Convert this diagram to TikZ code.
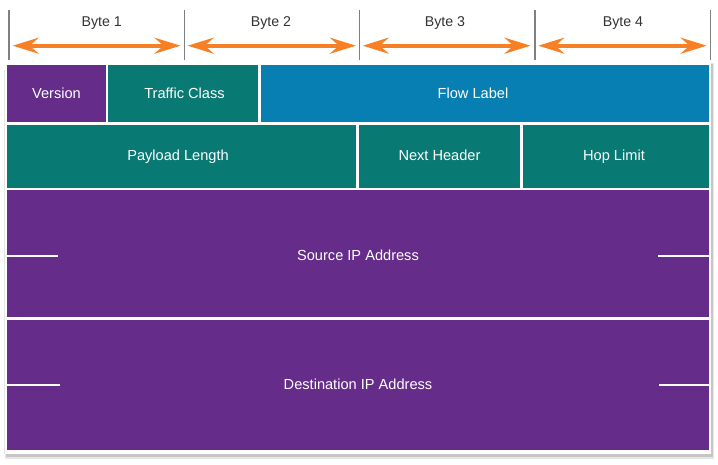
\documentclass[tikz,border=0pt]{standalone}
\usepackage{fontspec}
\setmainfont{Liberation Sans}
\usetikzlibrary{arrows.meta}
\definecolor{ipPurple}{RGB}{101,45,137}
\definecolor{ipTeal}{RGB}{8,121,115}
\definecolor{ipBlue}{RGB}{7,127,178}
\definecolor{ipOrange}{RGB}{245,128,37}
\definecolor{ipTick}{RGB}{128,128,128}
\definecolor{ipText}{RGB}{51,51,51}
\begin{document}
\begin{tikzpicture}[x=1pt,y=-1pt,
  cell/.style={rectangle, inner sep=0pt, outer sep=0pt, text=white,
    text height=10.5pt, text depth=0.5pt,
    font=\fontsize{14.6}{17}\selectfont},
  bytelabel/.style={inner sep=0pt, text=ipText, text height=10.5pt, text depth=0.5pt,
    font=\fontsize{14.2}{17}\selectfont},
  bytetick/.style={draw=ipTick, line width=1.3pt},
  bytearrow/.style={draw=ipOrange, line width=3.8pt,
    {Stealth[length=26pt,width=16pt,inset=9pt]}-{Stealth[length=26pt,width=16pt,inset=9pt]}},
  mark line/.style={draw=white, line width=2pt}
]
\useasboundingbox (0,0) rectangle (718,465);
% frame with shadow
\fill[black!45, opacity=0.55] (6,64) rectangle (712.5,457);
\fill[black!20, opacity=0.5] (5,63) rectangle (713.5,458.5);
\fill[white] (4.5,62) rectangle (711,454);
\draw[black!10, line width=0.6pt] (4.5,70) -- (4.5,454);

% byte ticks
\foreach \n/\x in {t0/9,t1/184.5,t2/359.5,t3/535,t4/710.3} {
  \coordinate (\n a) at (\x,10);
  \coordinate (\n b) at (\x,60);
  \draw[bytetick] (\n a) -- (\n b);
}
% byte labels
\node[bytelabel] (b1) at (101.7,22) {Byte 1};
\node[bytelabel] (b2) at (271,22) {Byte 2};
\node[bytelabel] (b3) at (445,22) {Byte 3};
\node[bytelabel] (b4) at (623,22) {Byte 4};
% arrows
\coordinate (a1l) at (12.7,45.7); \coordinate (a1r) at (180.5,45.7);
\coordinate (a2l) at (187.7,45.7); \coordinate (a2r) at (356,45.7);
\coordinate (a3l) at (362.7,45.7); \coordinate (a3r) at (530.5,45.7);
\coordinate (a4l) at (538.3,45.7); \coordinate (a4r) at (706.7,45.7);
\draw[bytearrow] (a1l) -- (a1r);
\draw[bytearrow] (a2l) -- (a2r);
\draw[bytearrow] (a3l) -- (a3r);
\draw[bytearrow] (a4l) -- (a4r);

% row 1
\node[cell, fill=ipPurple, minimum width=98.4pt, minimum height=56.7pt] (version) at (56.5,93.3) {};
\node[cell] (versiontext) at (56.5,93.8) {Version};
\node[cell, fill=ipTeal, minimum width=149.7pt, minimum height=56.7pt] (traffic) at (183.2,93.3) {};
\node[cell] (traffictext) at (184.5,93.8) {Traffic Class};
\node[cell, fill=ipBlue, minimum width=448.3pt, minimum height=56.7pt] (flow) at (484.85,93.3) {};
\node[cell] (flowtext) at (473,93.8) {Flow Label};
% row 2
\node[cell, fill=ipTeal, minimum width=349pt, minimum height=63pt] (payload) at (181.8,156.2) {};
\node[cell] (payloadtext) at (178,156) {Payload Length};
\node[cell, fill=ipTeal, minimum width=161.3pt, minimum height=63pt] (next) at (439.65,156.2) {};
\node[cell] (nexttext) at (439.5,156) {Next Header};
\node[cell, fill=ipTeal, minimum width=186.3pt, minimum height=63pt] (hop) at (615.85,156.2) {};
\node[cell] (hoptext) at (614,156) {Hop Limit};
% row 3
\node[cell, fill=ipPurple, minimum width=701.7pt, minimum height=127pt] (source) at (358.15,253.8) {};
\node[cell] (sourcetext) at (358,256) {Source IP Address};
% row 4
\node[cell, fill=ipPurple, minimum width=701.7pt, minimum height=130pt] (dest) at (358.15,385) {};
\node[cell] (desttext) at (358,384) {Destination IP Address};

% marks
\coordinate (s1) at (7.3,256); \coordinate (s2) at (58,256);
\coordinate (s3) at (658,256); \coordinate (s4) at (709,256);
\coordinate (d1) at (7.3,385); \coordinate (d2) at (60,385);
\coordinate (d3) at (659,385); \coordinate (d4) at (709,385);
\draw[mark line] (s1) -- (s2);
\draw[mark line] (s3) -- (s4);
\draw[mark line] (d1) -- (d2);
\draw[mark line] (d3) -- (d4);
\end{tikzpicture}
\end{document}
